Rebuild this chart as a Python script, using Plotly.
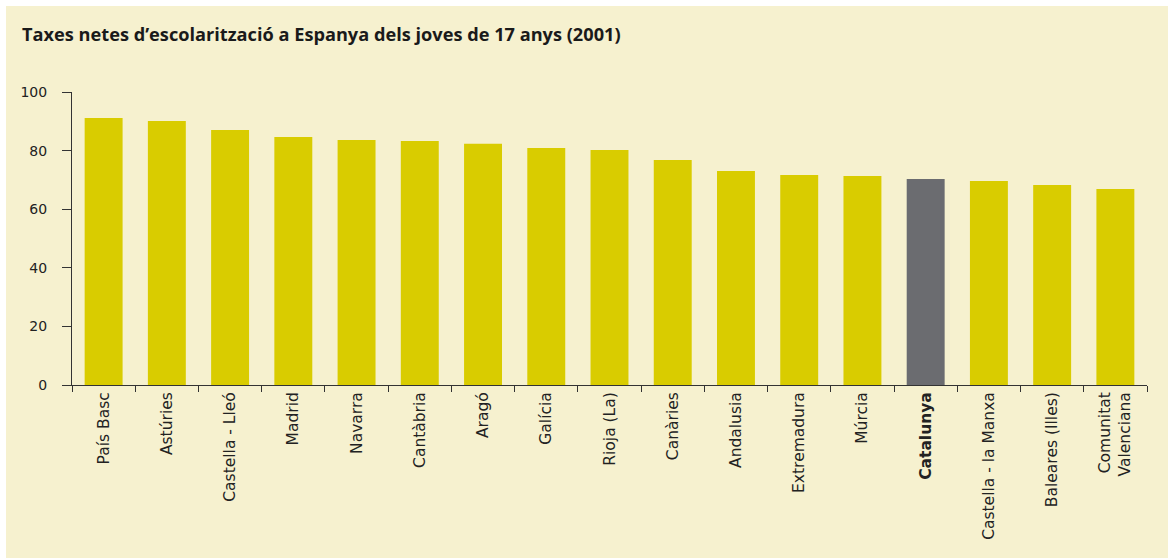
import plotly.graph_objects as go

regions = ["País Basc", "Astúries", "Castella - Lleó", "Madrid", "Navarra", "Cantàbria",
           "Aragó", "Galícia", "Rioja (La)", "Canàries", "Andalusia", "Extremadura",
           "Múrcia", "Catalunya", "Castella - la Manxa", "Balears (Illes)",
           "Comunitat Valenciana"]
tick_labels = ["País Basc", "Astúries", "Castella - Lleó", "Madrid", "Navarra", "Cantàbria",
               "Aragó", "Galícia", "Rioja (La)", "Canàries", "Andalusia", "Extremadura",
               "Múrcia", "<b>Catalunya</b>", "Castella - la Manxa", "Baleares (Illes)",
               "Comunitat<br>Valenciana"]
rates = [91.1, 90.1, 87.0, 84.6, 83.6, 83.3, 82.3, 80.9, 80.2, 76.8, 73.0, 71.7,
         71.3, 70.3, 69.6, 68.3, 66.9]
highlight = "Catalunya"

YELLOW = "#D9CC00"
GREY = "#6B6C70"
CREAM = "#F6F1CF"

colors = [GREY if r == highlight else YELLOW for r in regions]

fig = go.Figure(go.Bar(x=regions, y=rates, marker=dict(color=colors, line=dict(width=0)),
                       hoverinfo="x+y"))

L, R, T, B = 72, 21, 92, 173
W, H = 1168, 558
pw, ph = W - L - R, H - T - B

fig.update_layout(
    width=W, height=H,
    paper_bgcolor="white", plot_bgcolor=CREAM,
    margin=dict(l=L, r=R, t=T, b=B),
    bargap=0.4,
    showlegend=False,
    font=dict(family="DejaVu Sans, sans-serif", color="#222222", size=13),
    title=dict(text="<b>Taxes netes d’escolarització a Espanya dels joves de 17 anys (2001)</b>",
               x=22/W, xanchor="left", y=1-35/H, yanchor="middle",
               font=dict(family="Open Sans, sans-serif", size=18.2, color="#1a1a1a")),
    shapes=[dict(type="rect", xref="paper", yref="paper", layer="below",
                 x0=(6-L)/pw, x1=(W-L)/pw, y0=-(H-(H-B))/ph, y1=1+(T-6)/ph,
                 fillcolor=CREAM, line=dict(width=0))],
)
fig.update_xaxes(
    tickmode="array", tickvals=regions, ticktext=tick_labels,
    tickangle=-90, tickson="boundaries", ticks="outside", ticklen=6,
    tickcolor="#333333", showline=True, linecolor="#333333", linewidth=1,
    showgrid=False, tickfont=dict(family="DejaVu Sans, sans-serif", size=15.5, color="#222222"),
)
fig.update_yaxes(
    range=[0, 100], tickvals=[0, 20, 40, 60, 80, 100], ticks="outside", ticklen=9,
    tickcolor="#333333", showline=True, linecolor="#333333", linewidth=1,
    showgrid=False, zeroline=False, ticklabelstandoff=12,
    tickfont=dict(family="DejaVu Sans, sans-serif", size=14, color="#222222"),
)

fig.write_html("out.html", config={"displayModeBar": False},
               post_script="document.body.style.margin='0px';")
